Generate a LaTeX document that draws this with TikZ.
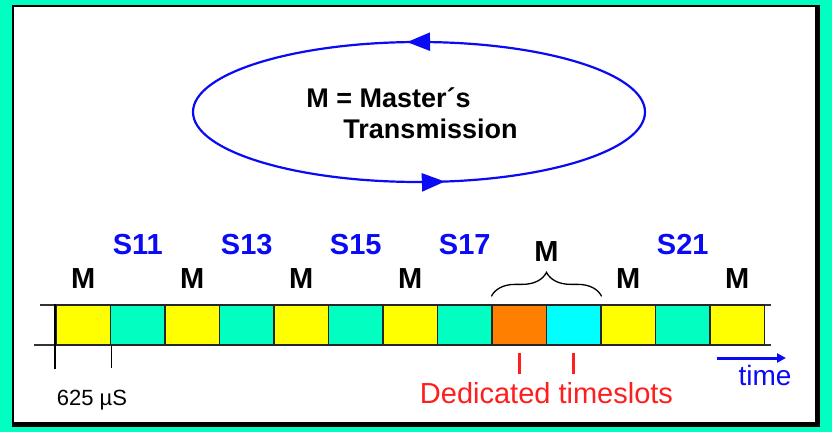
\documentclass[tikz,border=0pt]{standalone}
\usepackage{fontspec}
\setmainfont{Liberation Sans}
\usetikzlibrary{arrows.meta,decorations.markings,decorations.pathreplacing}
\definecolor{mint}{RGB}{0,255,192}
\definecolor{slotorange}{RGB}{255,128,0}
\definecolor{slotcyan}{RGB}{0,255,255}
\definecolor{slotyellow}{RGB}{255,255,0}
\definecolor{txtblue}{RGB}{10,10,245}
\definecolor{txtred}{RGB}{255,30,30}
\tikzset{
  slotbox/.style={draw=black!85,line width=1.3pt,minimum width=54.5pt,minimum height=40pt,inner sep=0pt},
  mlabel/.style={font=\fontsize{29}{31}\selectfont\bfseries,inner sep=0pt},
  slabel/.style={mlabel,text=txtblue},
  bigtext/.style={font=\fontsize{27}{31}\selectfont\bfseries,align=left,inner sep=0pt}
}
\begin{document}
\begin{tikzpicture}[x=1pt,y=1pt]
\useasboundingbox (0,0) rectangle (832,432);
\fill[mint] (0,0) rectangle (832,432);
\fill[black] (12,5) rectangle (820,427);
\fill[white] (14,10) rectangle (815,425);

\draw[txtblue,line width=2.2pt,postaction={decorate},
  decoration={markings,
    mark=at position 0.262 with {\arrow{Triangle[length=23pt,width=18pt]}},
    mark=at position 0.776 with {\arrow{Triangle[length=23pt,width=18pt]}}}]
  (419,320) ellipse [x radius=226, y radius=70];
\node[bigtext] (legend) at (412,319) {M = Master´s\\\hspace*{37pt}Transmission};

\coordinate (topL) at (40,127);
\coordinate (topR) at (771,127);
\coordinate (botL) at (34,87);
\coordinate (botR) at (771,87);
\draw[black!80,line width=1.3pt] (topL) -- (topR) (botL) -- (botR);

\foreach \c [count=\i] in {slotyellow,mint,slotyellow,mint,slotyellow,mint,slotyellow,mint,slotorange,slotcyan,slotyellow,mint,slotyellow}
  \node[slotbox,fill=\c] (s\i) at ({56+54.5*(\i-0.5)},107) {};

\foreach \i in {1,3,5,7,11,13}
  \node[mlabel] (m\i) at ([yshift=46pt]s\i.center) {M};
\foreach \i/\t in {2/S11,4/S13,6/S15,8/S17,12/S21}
  \node[slabel] (lab\i) at ([yshift=80pt]s\i.center) {\t};

\draw[line width=2pt] (s1.north west) -- ([yshift=-23pt]s1.south west);
\draw[line width=1.3pt] (s1.south east) -- ([yshift=-22pt]s1.south east);
\node[font=\fontsize{22}{24}\selectfont] (period) at (92,32) {625 µS};

\draw[line width=1.3pt,decorate,decoration={brace,amplitude=24pt}]
  ([yshift=8pt]s9.north west) -- ([yshift=8pt]s10.north east);
\node[mlabel] (mb) at (546.5,180) {M};

\draw[txtred,line width=3pt] ([yshift=-7pt]s9.south) -- ([yshift=-28pt]s9.south);
\draw[txtred,line width=3pt] ([yshift=-7pt]s10.south) -- ([yshift=-28pt]s10.south);
\node[txtred,font=\fontsize{29}{31}\selectfont] (ded) at (546.5,39) {Dedicated timeslots};

\coordinate (t0) at (717,74);
\coordinate (t1) at (786,74);
\draw[txtblue,line width=3pt,-{Triangle[length=9pt,width=9pt]}] (t0) -- (t1);
\node[txtblue,font=\fontsize{28}{30}\selectfont] (time) at (765,57) {time};
\end{tikzpicture}
\end{document}
